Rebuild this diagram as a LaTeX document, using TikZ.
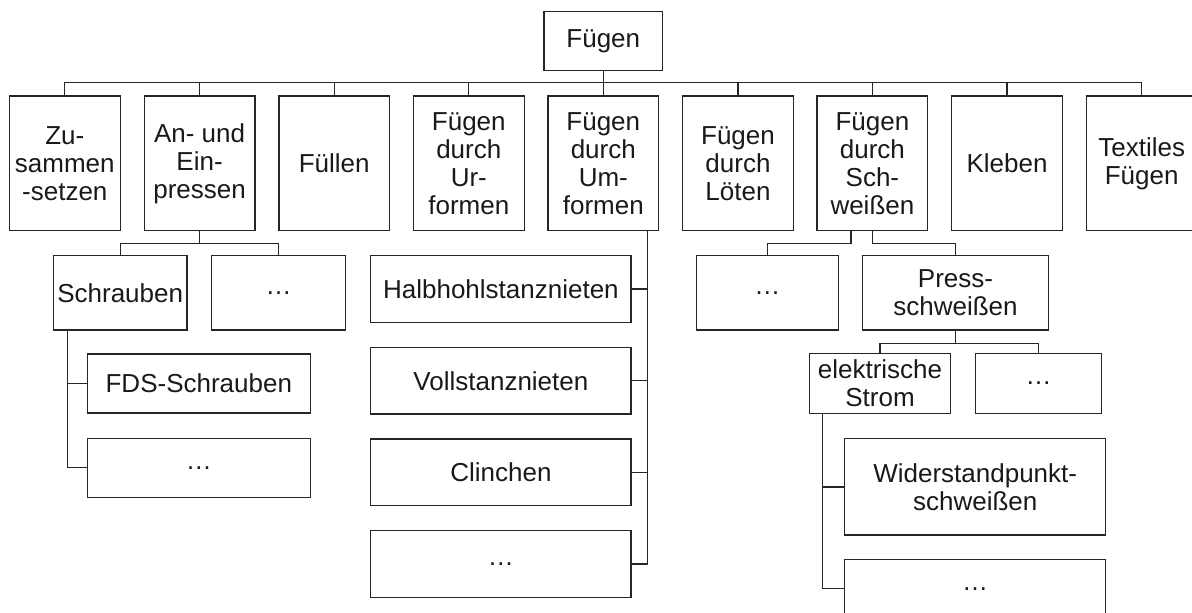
\documentclass[tikz,border=0pt]{standalone}
\usepackage{fontspec}
\setmainfont{Liberation Sans}
\usetikzlibrary{calc}
\begin{document}
\begin{tikzpicture}[x=0.5pt,y=-0.5pt,
  box/.style={draw=black!85, line width=0.65pt, rectangle, align=center,
    inner sep=0pt, text=black!90, font=\fontsize{13}{14}\selectfont},
  sz/.style 2 args={minimum width=#1*0.5pt, minimum height=#2*0.5pt},
  link/.style={draw=black!85, line width=0.6pt}]
\useasboundingbox (0,0) rectangle (1192,612);

% root
\node[box, sz={118.7}{59}] (top) at (603.3,41.2) {Fügen};

% main groups
\node[box, sz={110.7}{134.7}] (zus) at (64.8,163.3)  {Zu-\\sammen\\-setzen};
\node[box, sz={110.7}{134.7}] (ein) at (199.6,163.3) {An- und\\Ein-\\pressen};
\node[box, sz={110.7}{134.7}] (fue) at (334.2,163.3) {Füllen};
\node[box, sz={110.7}{134.7}] (ur)  at (468.8,163.3) {Fügen\\durch\\Ur-\\formen};
\node[box, sz={110.7}{134.7}] (um)  at (603.3,163.3) {Fügen\\durch\\Um-\\formen};
\node[box, sz={110.7}{134.7}] (loe) at (738,163.3)   {Fügen\\durch\\Löten};
\node[box, sz={110.7}{134.7}] (sw)  at (872.4,163.3) {Fügen\\durch\\Sch-\\weißen};
\node[box, sz={110.7}{134.7}] (kle) at (1007,163.3)  {Kleben};
\node[box, sz={110.7}{134.7}] (tex) at (1141.7,163.3) {Textiles\\Fügen};

% bus between root and main groups
\coordinate (bus) at (0,82.7);
\draw[link] (zus.north) -- (zus.north |- bus) -- (tex.north |- bus) -- (tex.north);
\foreach \n in {ein,fue,ur,um,loe,sw,kle}
  \draw[link] (\n.north) -- (\n.north |- bus);
\draw[link] (top.south) -- (top.south |- bus);

% An- und Einpressen
\node[box, sz={133.7}{74.5}] (schr)  at (120.2,292.8) {Schrauben};
\node[box, sz={133.7}{74.5}] (dotsA) at (278.5,292.8) {…};
\draw[link] (ein.south) -- ++(0,12) coordinate (einb);
\draw[link] (schr.north) |- (einb) -| (dotsA.north);

\node[box, sz={223}{59}] (fds)   at (198.8,383.5) {FDS-Schrauben};
\node[box, sz={223}{59}] (dotsB) at (198.8,467.8) {…};
\coordinate (sv) at ([xshift=7.2pt]schr.south west);
\draw[link] (sv) |- (dotsB.west);
\draw[link] (fds.west) -- (fds.west -| sv);

% Fuegen durch Umformen
\node[box, sz={260.3}{66.7}] (hh)    at (500.9,289)   {Halbhohlstanznieten};
\node[box, sz={260.3}{66.7}] (vs)    at (500.9,380.7) {Vollstanznieten};
\node[box, sz={260.3}{66.7}] (cl)    at (500.9,472.3) {Clinchen};
\node[box, sz={260.3}{66.7}] (dotsC) at (500.9,564)   {…};
\coordinate (uv) at ([xshift=-5.8pt]um.south east);
\draw[link] (uv) |- (dotsC.east);
\foreach \b in {hh,vs,cl}
  \draw[link] (\b.east) -- (\b.east -| uv);

% Fuegen durch Schweissen
\node[box, sz={142}{74.7}]   (dotsD) at (767.3,292.7) {…};
\node[box, sz={185.6}{74.7}] (press) at (955.5,292.7) {Press-\\schweißen};
\coordinate (swl) at ([xshift=-10.7pt]sw.south);
\draw[link] (swl) -- ++(0,12) -| (dotsD.north);
\draw[link] (sw.south) -- ++(0,12) -| (press.north);

\node[box, sz={141.4}{59.6}] (elek)  at (880,383.5)    {elektrische\\Strom};
\node[box, sz={126.4}{59.6}] (dotsE) at (1038.5,383.5) {…};
\draw[link] (press.south) -- ++(0,12.7) coordinate (pb);
\draw[link] (elek.north) |- (pb) -| (dotsE.north);

\node[box, sz={261}{96.3}]  (wid)   at (975.2,486.9) {Widerstandpunkt-\\schweißen};
\node[box, sz={261}{58.8}]  (dotsF) at (975.2,588.7) {…};
\coordinate (ev) at ([xshift=7.1pt]elek.south west);
\draw[link] (ev) |- (dotsF.west);
\draw[link] (wid.west) -- (wid.west -| ev);
\end{tikzpicture}
\end{document}
